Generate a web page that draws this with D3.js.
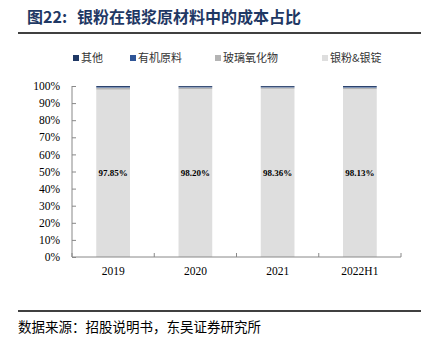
<!DOCTYPE html>
<html>
<head>
<meta charset="utf-8">
<script src="https://cdn.jsdelivr.net/npm/d3@7"></script>
<style>
  body { margin: 0; background: #fff; }
  svg { display: block; }
</style>
</head>
<body>
<div id="chart"></div>
<script>
/* DATA */
const categories = ["2019", "2020", "2021", "2022H1"];
const seriesNames = ["其他", "有机原料", "玻璃氧化物", "银粉&银锭"];
const silver = [97.85, 98.20, 98.36, 98.13];
const glass = [1.25, 1.00, 0.84, 0.97];
const organic = [0.35, 0.30, 0.30, 0.35];
const other = [0.55, 0.50, 0.50, 0.55];
const yTicks = [0, 10, 20, 30, 40, 50, 60, 70, 80, 90, 100];

const width = 429, height = 351;
const margin = { top: 86, bottom: 94, left: 72, right: 28 };
const colors = { "其他": "#1f3864", "有机原料": "#2f5597", "玻璃氧化物": "#b4b4b4", "银粉&银锭": "#dedede" };

const rows = categories.map((c, i) => ({
  cat: c,
  "银粉&银锭": silver[i],
  "玻璃氧化物": glass[i],
  "有机原料": organic[i],
  "其他": other[i]
}));

const stackKeys = ["银粉&银锭", "玻璃氧化物", "有机原料", "其他"];
const stacked = d3.stack().keys(stackKeys)(rows);

const svg = d3.select("#chart").append("svg")
  .attr("width", width)
  .attr("height", height);

const xScale = d3.scaleBand()
  .domain(categories)
  .range([margin.left, width - margin.right])
  .paddingInner(0.59)
  .paddingOuter(0.295);

const yScale = d3.scaleLinear()
  .domain([0, 100])
  .range([height - margin.bottom, margin.top]);

// title
const title = svg.append("text")
  .attr("y", 23)
  .attr("font-family", "Noto Sans CJK SC")
  .attr("font-weight", "bold")
  .attr("font-size", 16)
  .attr("fill", "#1f3864");
title.append("tspan").attr("x", 27).text("图22:");
title.append("tspan").attr("x", 77).text("银粉在银浆原材料中的成本占比");

svg.append("line")
  .attr("x1", 18).attr("x2", 421)
  .attr("y1", 33).attr("y2", 33)
  .attr("stroke", "#000").attr("stroke-width", 1.5);

// legend
const legendX = [73, 130, 215, 322];
const legend = svg.append("g");
seriesNames.forEach((name, i) => {
  legend.append("rect")
    .attr("x", legendX[i]).attr("y", 55)
    .attr("width", 6).attr("height", 6)
    .attr("fill", colors[name]);
  legend.append("text")
    .attr("x", legendX[i] + 8).attr("y", 62)
    .attr("font-family", "Noto Sans CJK SC")
    .attr("font-size", 11)
    .attr("fill", "#333")
    .text(name);
});

// bars
svg.append("g").selectAll("g")
  .data(stacked)
  .join("g")
  .attr("fill", d => colors[d.key])
  .selectAll("rect")
  .data(d => d)
  .join("rect")
  .attr("x", d => xScale(d.data.cat))
  .attr("width", xScale.bandwidth())
  .attr("y", d => yScale(d[1]))
  .attr("height", d => yScale(d[0]) - yScale(d[1]));

// labels
svg.append("g").selectAll("text")
  .data(rows)
  .join("text")
  .attr("x", d => xScale(d.cat) + xScale.bandwidth() / 2)
  .attr("y", d => yScale(d["银粉&银锭"] / 2) + 3)
  .attr("text-anchor", "middle")
  .attr("font-family", "Liberation Serif")
  .attr("font-weight", "bold")
  .attr("font-size", 9)
  .attr("fill", "#000")
  .text(d => d["银粉&银锭"].toFixed(2) + "%");

// y axis
const yAxis = d3.axisLeft(yScale)
  .tickValues(yTicks)
  .tickFormat(d => d + "%")
  .tickSize(4);

const yAxisGroup = svg.append("g")
  .attr("transform", `translate(${margin.left},0)`)
  .call(yAxis);
yAxisGroup.select(".domain").attr("d", `M0,${yScale(0)}V${yScale(100)}`).attr("stroke", "#888");
yAxisGroup.selectAll(".tick line").attr("stroke", "#888").attr("x2", 4).attr("x1", 0);
yAxisGroup.selectAll(".tick text")
  .attr("x", -12)
  .attr("font-family", "Liberation Serif")
  .attr("font-size", 11.5)
  .attr("fill", "#000");

// x axis
const x0 = margin.left, x1 = width - margin.right;
const step = xScale.step();
const xAxisGroup = svg.append("g")
  .attr("transform", `translate(0,${yScale(0)})`);
xAxisGroup.append("line")
  .attr("x1", x0).attr("x2", x1)
  .attr("stroke", "#888");
xAxisGroup.selectAll(".xt")
  .data(d3.range(categories.length + 1))
  .join("line")
  .attr("x1", i => x0 + i * step).attr("x2", i => x0 + i * step)
  .attr("y1", 0).attr("y2", -4)
  .attr("stroke", "#888");
xAxisGroup.selectAll("text")
  .data(categories)
  .join("text")
  .attr("x", d => xScale(d) + xScale.bandwidth() / 2)
  .attr("y", 18)
  .attr("text-anchor", "middle")
  .attr("font-family", "Liberation Serif")
  .attr("font-size", 11.5)
  .attr("fill", "#000")
  .text(d => d);

// footer
svg.append("line")
  .attr("x1", 18).attr("x2", 421)
  .attr("y1", 311).attr("y2", 311)
  .attr("stroke", "#000").attr("stroke-width", 1.5);

svg.append("text")
  .attr("x", 18)
  .attr("y", 332)
  .attr("font-family", "Noto Sans CJK SC")
  .attr("font-size", 13.5)
  .attr("fill", "#000")
  .text("数据来源：招股说明书，东吴证券研究所");
</script>
</body>
</html>
